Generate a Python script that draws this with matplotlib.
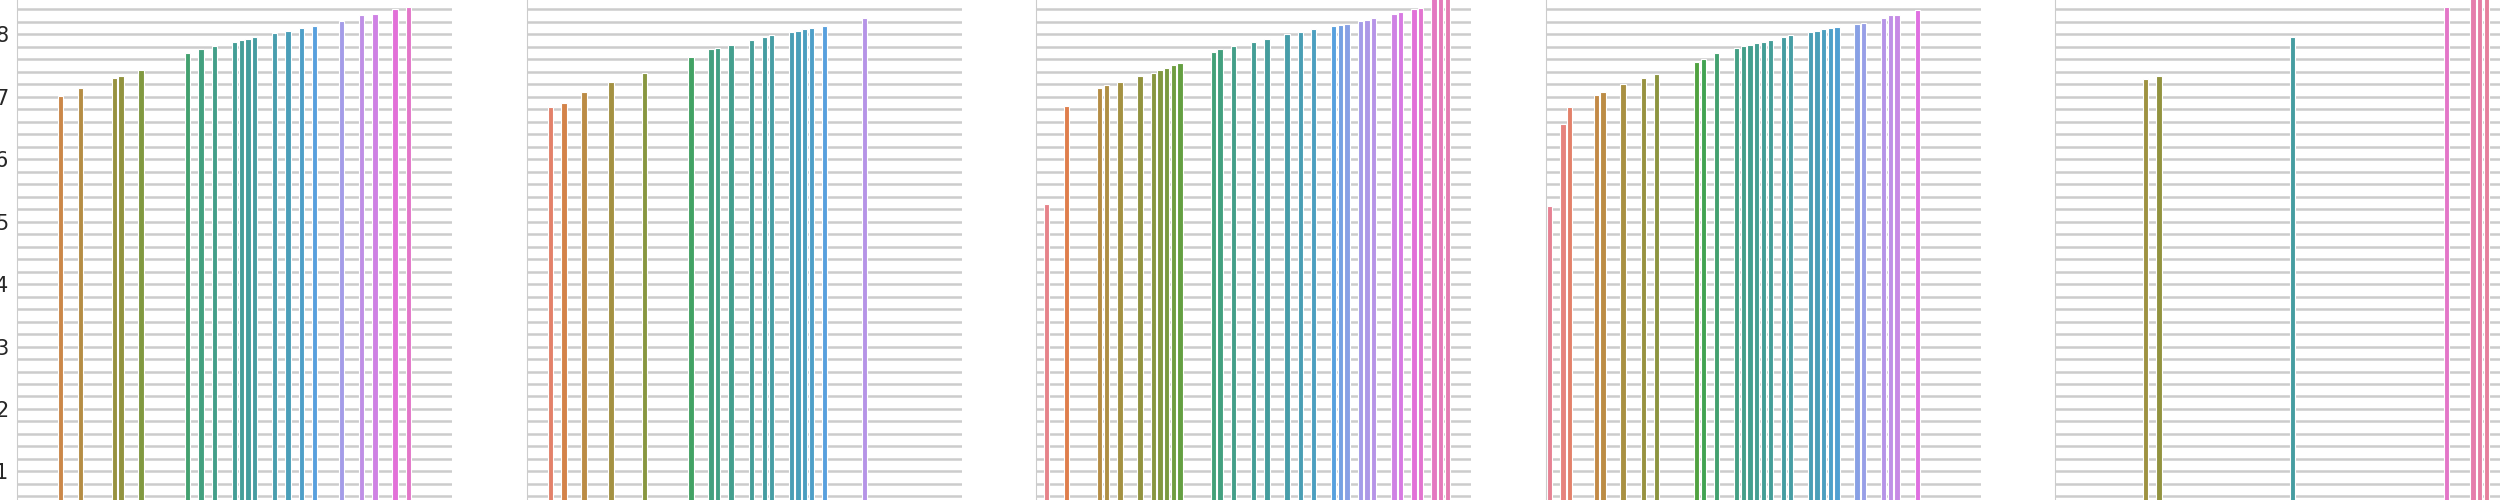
import numpy as np
import matplotlib.pyplot as plt
import seaborn as sns
from matplotlib.ticker import MultipleLocator

# 65 categories along x, coloured by a husl palette
n_cat = 65
categories = list(range(n_cat))

p1_idx = [6, 9, 14, 15, 18, 25, 27, 29, 32, 33, 34, 35, 38, 40, 42, 44, 48, 51, 53, 56, 58]
p1_val = [7.01, 7.135, 7.30, 7.33, 7.43, 7.70, 7.765, 7.81, 7.88, 7.91, 7.92, 7.96,
          8.02, 8.05, 8.10, 8.13, 8.21, 8.31, 8.33, 8.41, 8.44]

p2_idx = [3, 5, 8, 12, 17, 24, 27, 28, 30, 33, 35, 36, 39, 40, 41, 42, 44, 50]
p2_val = [6.83, 6.895, 7.076, 7.237, 7.38, 7.63, 7.765, 7.78, 7.83, 7.91, 7.96, 7.995,
          8.04, 8.05, 8.085, 8.096, 8.13, 8.26]

p3_idx = [1, 4, 9, 10, 12, 15, 17, 18, 19, 20, 21, 26, 27, 29, 32, 34, 37, 39, 41,
          44, 45, 46, 48, 49, 50, 53, 54, 56, 57, 59, 60, 61]
p3_val = [5.28, 6.85, 7.14, 7.19, 7.237, 7.33, 7.38, 7.43, 7.46, 7.51, 7.54, 7.72,
          7.765, 7.81, 7.88, 7.925, 8.005, 8.04, 8.085, 8.13, 8.15, 8.165, 8.21, 8.23,
          8.26, 8.33, 8.36, 8.41, 8.42, 8.65, 8.68, 8.7]

p4_idx = [0, 2, 3, 7, 8, 11, 14, 16, 22, 23, 25, 28, 29, 30, 31, 32, 33, 35, 36,
          39, 40, 41, 42, 43, 46, 47, 50, 51, 52, 55]
p4_val = [5.245, 6.56, 6.83, 7.023, 7.076, 7.20, 7.30, 7.365, 7.557, 7.605, 7.70,
          7.78, 7.81, 7.83, 7.86, 7.88, 7.91, 7.96, 7.99, 8.04, 8.05, 8.085, 8.10,
          8.12, 8.165, 8.18, 8.26, 8.31, 8.31, 8.39]

p5_idx = [13, 15, 35, 58, 62, 63, 64]
p5_val = [7.28, 7.33, 7.95, 8.44, 8.7, 8.72, 8.75]

panels = [(p1_idx, p1_val), (p2_idx, p2_val), (p3_idx, p3_val),
          (p4_idx, p4_val), (p5_idx, p5_val)]

colors = [sns.desaturate(c, 0.75) for c in sns.husl_palette(n_cat)]

fig = plt.figure(figsize=(25, 5), dpi=100)
W, H = 2500.0, 500.0
lefts = [17.3, 527.3, 1036.3, 1546.3, 2055.3]
width = 434.4
unit = width / n_cat

for k, (idx, vals) in enumerate(panels):
    w = width if k < 4 else W - lefts[k]
    ax = fig.add_axes([lefts[k] / W, 0, w / W, 1])
    ax.bar(idx, vals, width=0.8, color=[colors[i] for i in idx],
           edgecolor='white', linewidth=0.8, zorder=2)
    ax.set_xlim(-0.5, -0.5 + w / unit)
    ax.set_ylim(0.542, 8.55)
    ax.yaxis.set_major_locator(MultipleLocator(1))
    ax.yaxis.set_minor_locator(MultipleLocator(0.2))
    ax.set_axisbelow(True)
    ax.grid(axis='y', which='both', color='#cccccc', lw=1.8)
    ax.tick_params(axis='y', which='both', length=0, pad=6.5, labelsize=15,
                   labelcolor='#262626', labelleft=(k == 0))
    ax.tick_params(axis='x', bottom=False, labelbottom=False)
    for s in ['top', 'right', 'bottom']:
        ax.spines[s].set_visible(False)
    ax.spines['left'].set_color('#cccccc')
    ax.spines['left'].set_linewidth(0.8)
    ax.patch.set_alpha(0)

fig.savefig('out.png', dpi=100)
